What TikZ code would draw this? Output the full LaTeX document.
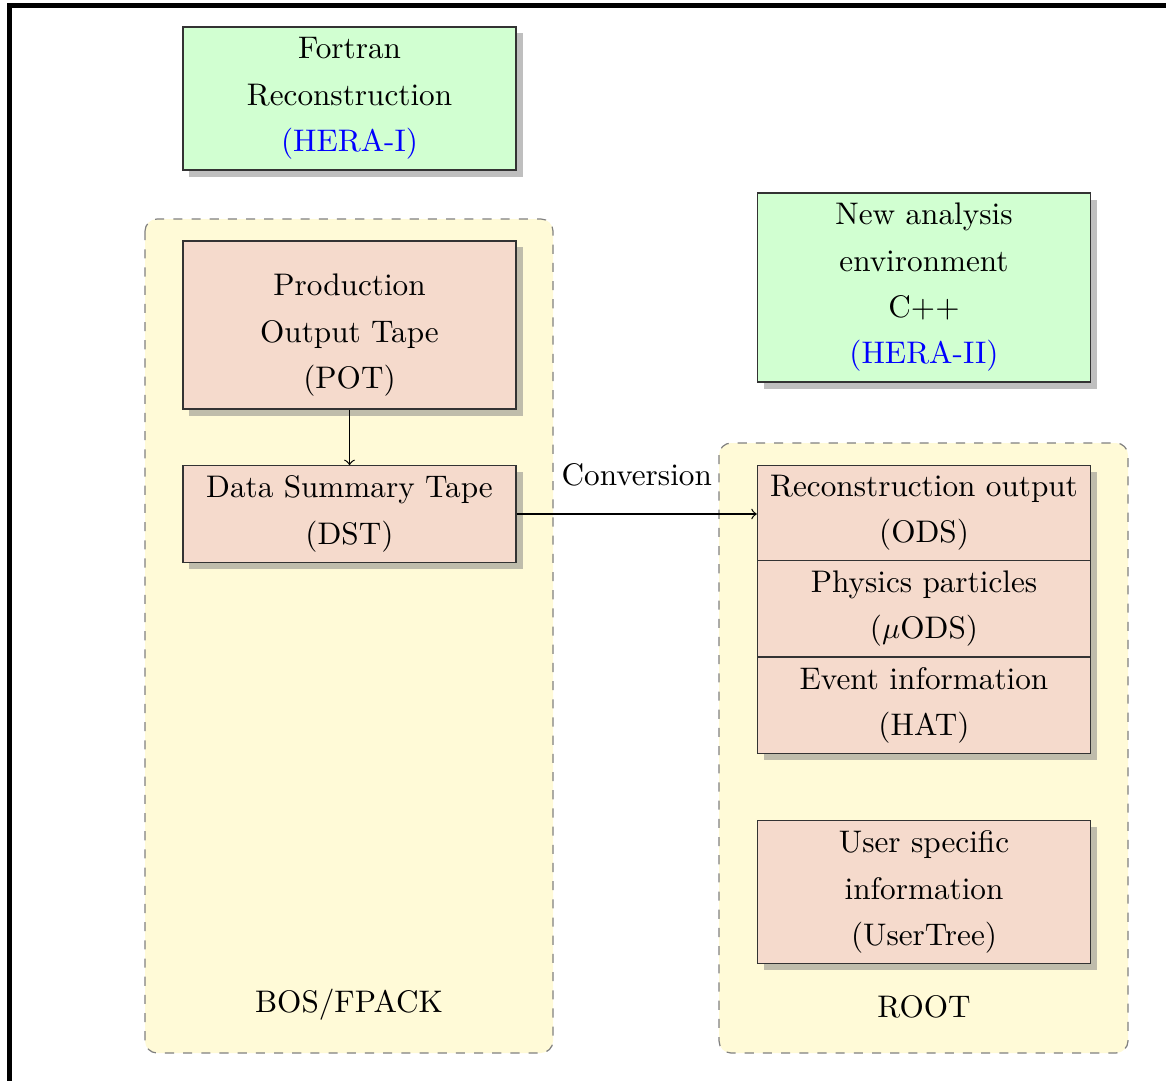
\documentclass[tikz,border=0pt]{standalone}
\usetikzlibrary{positioning,shadows}

\definecolor{envgreen}{RGB}{209,255,209}
\definecolor{tapepink}{RGB}{245,218,204}
\definecolor{formatyellow}{RGB}{255,250,215}

\def\Boxwidth{3.863cm}

\begin{document}
\begin{tikzpicture}[x=0.0116cm,y=-0.0116cm,
  every node/.style={font=\fontsize{10.3}{15.3}\selectfont,align=center},
  envbox/.style={draw=black!80,fill=envgreen,drop shadow,minimum width=\Boxwidth},
  tapebox/.style={draw=black!80,fill=tapepink,drop shadow,minimum width=\Boxwidth},
  formatbox/.style={draw=gray,fill=formatyellow,dashed,rounded corners},]

% Page frame
\useasboundingbox (0,0) rectangle (1166,1080);
\draw [ultra thick] (9.5,5.3) rectangle (1300,1200);

% Storage formats
\filldraw [formatbox] (145,219) rectangle (553,1053);
\filldraw [formatbox] (719,443) rectangle (1128,1053);

\node (bos) at (349,1005) {BOS/FPACK};
\node (root) at (924,1007) {ROOT};

% Environments
\node [envbox,minimum height=1.659cm] (fortran) at (349.5,98.5)
  {Fortran\\Reconstruction\\\textcolor{blue}{(HERA-I)}};
\node [envbox,minimum height=2.192cm] (newenv) at (924,287.5)
  {New analysis\\environment\\C++\\\textcolor{blue}{(HERA-II)}};

% Tapes (HERA-I)
\node [tapebox,minimum height=1.949cm] (pot) at (349.5,325)
  {\rule{0pt}{14pt}Production\\Output Tape\\(POT)};
\node [tapebox,minimum height=1.114cm] (dst) at (349.5,514)
  {Data Summary Tape\\(DST)};

% Files (HERA-II)
\node [tapebox,minimum height=1.096cm] (ods) at (924,513)
  {Reconstruction output\\(ODS)};
\node [tapebox,minimum height=1.096cm,below=-0.4pt of ods] (muods)
  {Physics particles\\($\mu$ODS)};
\node [tapebox,minimum height=1.096cm,below=-0.4pt of muods] (hat)
  {Event information\\(HAT)};
\node [tapebox,minimum height=1.647cm] (usertree) at (924,892)
  {User specific\\information\\(UserTree)};

% Flows
\draw [->] (pot) -- (dst);
\draw [->] (dst.east) -- (dst.east -| ods.west)
  node[midway,above=5.5pt] {Conversion};

\end{tikzpicture}
\end{document}
